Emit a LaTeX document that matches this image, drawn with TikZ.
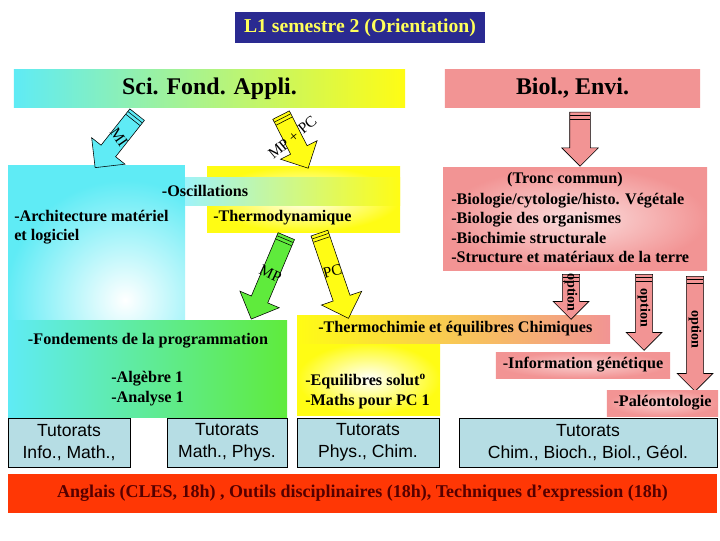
\documentclass[tikz,border=0pt]{standalone}
\usepackage{fontspec}
\setmainfont{Liberation Serif}
\setsansfont{Liberation Sans}
\usepackage{tikz}
\usetikzlibrary{positioning,calc}
\usetikzlibrary{shapes.arrows}
\definecolor{NavyBar}{RGB}{42,42,145}
\definecolor{TitleYel}{RGB}{255,255,90}
\definecolor{SciCyan}{RGB}{95,235,245}
\definecolor{SciYel}{RGB}{255,252,20}
\definecolor{SciGreen}{RGB}{95,235,60}
\definecolor{BioPink}{RGB}{242,148,148}
\definecolor{ThermOrange}{RGB}{248,196,120}
\definecolor{TutBlue}{RGB}{182,221,228}
\definecolor{BandRed}{RGB}{255,55,5}
\definecolor{BandText}{RGB}{85,0,0}
\tikzset{
	head/.style={font=\fontsize{17}{20}\selectfont\bfseries,inner sep=0pt,minimum height=0.925cm},
	txt/.style={font=\fontsize{11.5}{13.8}\selectfont\bfseries,inner sep=0pt,align=left},
	tut/.style={draw=black,fill=TutBlue,inner sep=0pt,align=center,
		minimum height=1.225cm,font=\sffamily\fontsize{12.5}{15.5}\selectfont},
	fat/.style={single arrow,draw=black,line width=0.4pt,inner xsep=0pt,
		single arrow head indent=0pt,shade},
	lbl/.style={font=\fontsize{11}{13}\selectfont,inner sep=0pt},
	opt/.style={font=\fontsize{10}{12}\selectfont\bfseries,inner sep=0pt,rotate=-90},
}

\begin{document}
\begin{tikzpicture}[x=0.025cm,y=-0.025cm]
			\useasboundingbox[fill=white] (0,0) rectangle (720,540);
			% title and headers
			\node[fill=NavyBar,text=TitleYel,minimum width=6.25cm,minimum height=0.775cm,
				font=\fontsize{14}{17}\selectfont\bfseries] (title) at (360,27.5) {L1 semestre 2 (Orientation)};
			\node[head,left color=SciCyan,right color=SciYel,minimum width=9.775cm] (sfa) at (209.5,88.5) {Sci. Fond. Appli.};
			\node[head,left color=BioPink,middle color=BioPink!60!white,right color=BioPink,
				minimum width=6.375cm] (bio) at (572.5,88.5) {Biol., Envi.};
			% backgrounds
			\fill[SciCyan] (8,165) rectangle (185,320);
			\begin{scope}
				\clip (8,165) rectangle (185,320);
				\shade[inner color=white,outer color=SciCyan] (125,300) circle (120);
			\end{scope}
			\shade[inner color=white,outer color=SciYel] (207,166) rectangle (400,232);
			\shade[left color=SciCyan!60!white,right color=SciYel] (185,177) rectangle (400,205);
			\shade[left color=SciCyan,right color=SciGreen] (8,320) rectangle (287,417);
			\shade[inner color=white,outer color=SciYel] (297,343) rectangle (440,415);
			\shade[left color=SciYel,middle color=ThermOrange,right color=BioPink] (297,315) rectangle (610,343);
			\shade[inner color=BioPink!30!white,outer color=BioPink] (443,167) rectangle (707,270);
			% arrows
			\node[fat,left color=SciCyan,middle color=SciCyan!30!white,right color=SciCyan,rotate=231.6,
				minimum height=1.69cm,inner ysep=0.225cm,single arrow head extend=0.3cm] (mi) at (119,137.5) {};
			\node[fat,left color=SciYel,middle color=SciYel!30!white,right color=SciYel,rotate=297,
				minimum height=1.49cm,inner ysep=0.225cm,single arrow head extend=0.28cm] (mppc) at (292.5,137.5) {};
			\node[fat,left color=BioPink,middle color=white,right color=BioPink,rotate=-90,
				minimum height=1.35cm,inner ysep=0.25cm,single arrow head extend=0.2cm] (bioarr) at (580,134) {};
			\node[fat,left color=SciGreen,middle color=SciGreen!30!white,right color=SciGreen,rotate=247.1,
				minimum height=2.25cm,inner ysep=0.215cm,single arrow head extend=0.31cm] (mp) at (270.5,273.5) {};
			\node[fat,left color=SciYel,middle color=SciYel!30!white,right color=SciYel,rotate=288.8,
				minimum height=2.25cm,inner ysep=0.215cm,single arrow head extend=0.31cm] (pc) at (332.5,271.5) {};
			\foreach \nm/\len/\pos in {opa/1.125/{571,292.5},opb/1.9/{644,308},opc/2.875/{695,329.5}}
				\node[fat,left color=BioPink,middle color=white,right color=BioPink,rotate=-90,
					minimum height=\len cm,inner ysep=0.21cm,single arrow head extend=0.23cm] (\nm) at (\pos) {};
			\foreach \arr/\w in {mi/0.225cm,mppc/0.225cm,bioarr/0.25cm,mp/0.215cm,pc/0.215cm,opa/0.21cm,opb/0.21cm,opc/0.21cm}
				\foreach \d in {2.5pt,5pt} {
					\coordinate (s) at ($(\arr.tail)!\d!(\arr.tip)$);
					\draw[line width=0.4pt] ($(s)!\w!90:(\arr.tip)$) -- ($(s)!\w!-90:(\arr.tip)$);
				}
			\node[lbl,rotate=-55] (milbl) at (mi) {MI};
			\node[lbl,rotate=40] (mppclbl) at (mppc) {MP + PC};
			\node[lbl,rotate=-25] (mplbl) at (mp) {MP};
			\node[lbl,rotate=15] (pclbl) at (pc) {PC};
			\foreach \nm in {opa,opb,opc}
				\node[opt] at (\nm) {option};
			% texts
			\node[txt] (osc) at (205,191) {-Oscillations};
			\node[txt,anchor=west] (archi) at (14,227) {-Architecture matériel\\et logiciel};
			\node[txt,anchor=west] (thermo) at (213,218) {-Thermodynamique};
			\node[txt] (fond) at (148,341) {-Fondements de la programmation};
			\node[txt,anchor=west] (alg) at (111,388.5) {-Algèbre 1\\-Analyse 1};
			\node[txt,anchor=west] (chim) at (318,329) {-Thermochimie et équilibres Chimiques};
			\node[txt,anchor=west] (equi) at (305,391.5) {-Equilibres solut\textsuperscript{o}\\-Maths pour PC 1};
			\node[txt] (tronc) at (565,180) {(Tronc commun)};
			\node[txt,anchor=west] (tlist) at (451,228) {-Biologie/cytologie/histo. Végétale\\-Biologie des organismes\\-Biochimie structurale\\-Structure et matériaux de la terre};
			\node[txt,inner color=BioPink!45!white,outer color=BioPink,minimum width=4.35cm,minimum height=0.65cm] (gen) at (583,365) {-Information génétique};
			\node[txt,inner color=BioPink!45!white,outer color=BioPink,minimum width=2.775cm,minimum height=0.65cm] (paleo) at (662.5,403) {-Paléontologie};
			% tutorats and band
			\node[tut,minimum width=3.05cm] (tut1) at (69,442.5) {Tutorats\\Info., Math.,};
			\node[tut,minimum width=3cm] (tut2) at (227,442.5) {Tutorats\\Math., Phys.};
			\node[tut,minimum width=3.55cm] (tut3) at (368,442.5) {Tutorats\\Phys., Chim.};
			\node[tut,minimum width=6.45cm] (tut4) at (588,442.5) {Tutorats\\Chim., Bioch., Biol., Géol.};
			\node[fill=BandRed,text=BandText,minimum width=17.725cm,minimum height=0.975cm,
				font=\fontsize{12.8}{15}\selectfont\bfseries] (band) at (362.5,493.5) {Anglais (CLES, 18h) , Outils disciplinaires (18h), Techniques d’expression (18h)};
		\end{tikzpicture}
\end{document}
